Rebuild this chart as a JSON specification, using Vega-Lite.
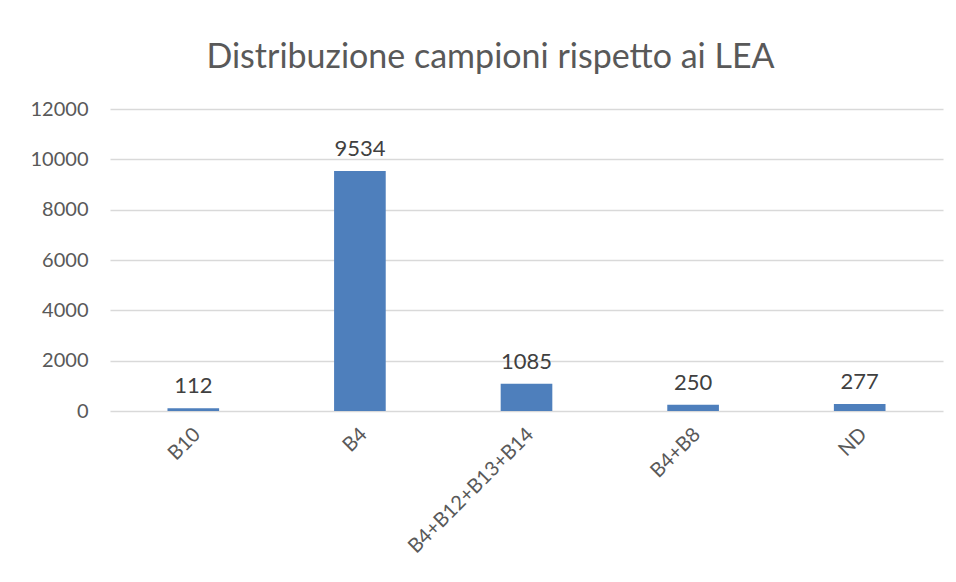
{
  "$schema": "https://vega.github.io/schema/vega-lite/v6.json",
  "autosize": {"type": "none"},
  "width": 833,
  "height": 302,
  "padding": {"left": 110, "top": 109, "right": 13, "bottom": 171},
  "background": "white",
  "title": {
    "text": "Distribuzione campioni rispetto ai LEA",
    "font": "Lato",
    "fontSize": 34,
    "fontWeight": "normal",
    "color": "#595959",
    "anchor": "middle",
    "dx": -36,
    "offset": 24
  },
  "data": {
    "values": [
      {"categoria": "B10", "campioni": 112},
      {"categoria": "B4", "campioni": 9534},
      {"categoria": "B4+B12+B13+B14", "campioni": 1085},
      {"categoria": "B4+B8", "campioni": 250},
      {"categoria": "ND", "campioni": 277}
    ]
  },
  "encoding": {
    "x": {
      "field": "categoria",
      "type": "nominal",
      "sort": null,
      "scale": {"paddingInner": 0.69, "paddingOuter": 0.345},
      "axis": {
        "title": null,
        "labelAngle": -45,
        "labelAlign": "right",
        "labelBaseline": "middle",
        "labelFont": "Lato",
        "labelFontSize": 20,
        "labelColor": "#595959",
        "labelPadding": 20,
        "labelOffset": 4,
        "ticks": false,
        "domain": false,
        "grid": false
      }
    },
    "y": {
      "field": "campioni",
      "type": "quantitative",
      "scale": {"domain": [0, 12000], "nice": false},
      "axis": {
        "title": null,
        "values": [0, 2000, 4000, 6000, 8000, 10000, 12000],
        "format": "d",
        "labelFont": "Lato",
        "labelFontSize": 20,
        "labelColor": "#595959",
        "labelPadding": 22,
        "ticks": false,
        "domain": false,
        "grid": true,
        "gridColor": "#d9d9d9",
        "gridWidth": 1.5
      }
    }
  },
  "layer": [
    {"mark": {"type": "bar", "color": "#4e7fbc"}},
    {
      "mark": {
        "type": "text",
        "baseline": "bottom",
        "dy": -10,
        "font": "Lato",
        "fontSize": 22,
        "color": "#404040"
      },
      "encoding": {"text": {"field": "campioni", "type": "quantitative", "format": "d"}}
    }
  ],
  "config": {"view": {"stroke": null}}
}
